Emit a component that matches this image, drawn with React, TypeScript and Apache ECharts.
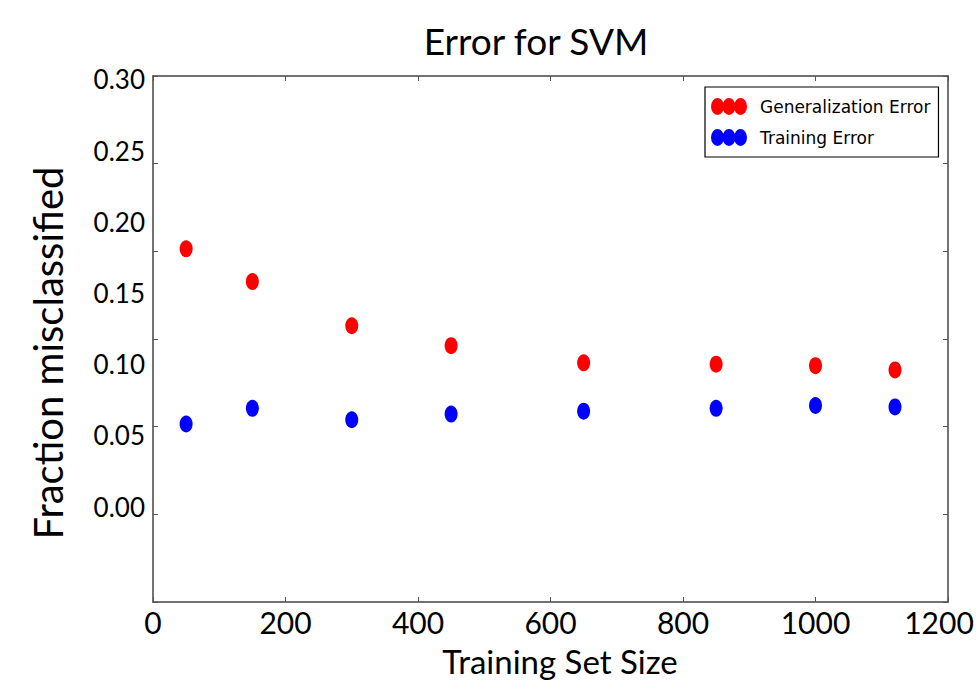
import React, { useEffect, useRef } from "react";
import * as echarts from "echarts";

const trainingSizes = [50, 150, 300, 450, 650, 850, 1000, 1120];
const generalizationError = [0.181, 0.158, 0.127, 0.113, 0.101, 0.1, 0.099, 0.096];
const trainingError = [0.058, 0.069, 0.061, 0.065, 0.067, 0.069, 0.071, 0.07];
const yTickLabels = [0, 0.05, 0.1, 0.15, 0.2, 0.25, 0.3];
const seriesNames = ["Generalization Error", "Training Error"];
const titleText = "Error for SVM";
const xAxisTitle = "Training Set Size";
const yAxisTitle = "Fraction misclassified";

const FONT = "Lato";
const ICON =
  "path://M0,8.5 A6.5,8.5 0 1,0 13,8.5 A6.5,8.5 0 1,0 0,8.5 Z M11.5,8.5 A6.5,8.5 0 1,0 24.5,8.5 A6.5,8.5 0 1,0 11.5,8.5 Z M23,8.5 A6.5,8.5 0 1,0 36,8.5 A6.5,8.5 0 1,0 23,8.5 Z";

export default function App() {
  const ref = useRef<HTMLDivElement>(null);
  useEffect(() => {
    if (!ref.current) return;
    const chart = echarts.init(ref.current, null, { renderer: "svg" });
    const axisLine = { show: true, onZero: false, lineStyle: { color: "#444", width: 1.5 } };
    const tick = { show: true, inside: true, length: 5, lineStyle: { color: "#555", width: 1 } };
    chart.setOption({
      animation: false,
      backgroundColor: "#fff",
      grid: { left: 153, right: 32, top: 76, bottom: 79, containLabel: false, outerBoundsMode: "none" },
      xAxis: [
        {
          type: "value",
          position: "bottom",
          min: 0,
          max: 1200,
          interval: 200,
          axisLine,
          axisTick: tick,
          splitLine: { show: false },
          axisLabel: {
            fontFamily: FONT,
            fontSize: 30,
            lineHeight: 28,
            color: "#000",
            margin: 6,
            formatter: (v: number) => (v === 1200 ? "{last|" + v + "}" : String(v)),
            rich: {
              last: { fontFamily: FONT, fontSize: 30, lineHeight: 28, color: "#000", padding: [0, 18, 0, 0] },
            },
          },
        },
        {
          type: "value",
          position: "top",
          min: 0,
          max: 1200,
          interval: 200,
          axisLine,
          axisTick: tick,
          splitLine: { show: false },
          axisLabel: { show: false },
        },
      ],
      yAxis: [
        {
          type: "value",
          position: "left",
          min: 0,
          max: 6,
          interval: 1,
          axisLine,
          axisTick: tick,
          splitLine: { show: false },
          axisLabel: { show: false },
        },
        {
          type: "value",
          position: "right",
          min: 0,
          max: 6,
          interval: 1,
          axisLine,
          axisTick: tick,
          splitLine: { show: false },
          axisLabel: { show: false },
        },
        {
          type: "value",
          position: "left",
          min: -0.067,
          max: 0.3024,
          axisLine: { show: false, onZero: false },
          axisTick: { show: false },
          splitLine: { show: false },
          axisLabel: {
            customValues: yTickLabels,
            formatter: (v: number) => v.toFixed(2),
            fontFamily: FONT,
            fontSize: 26,
            color: "#000",
            margin: 8,
          },
        },
      ],
      legend: {
        orient: "vertical",
        left: 705,
        top: 87,
        padding: [11, 8, 11, 6],
        itemWidth: 36,
        itemHeight: 17,
        itemGap: 14,
        icon: ICON,
        borderColor: "#000",
        borderWidth: 1.2,
        borderRadius: 0,
        backgroundColor: "#fff",
        data: seriesNames,
        textStyle: { fontFamily: "DejaVu Sans", fontSize: 17, color: "#000", padding: [0, 0, 0, 8] },
      },
      graphic: [
        {
          type: "text",
          x: 536,
          y: 40,
          style: {
            text: titleText,
            fontFamily: FONT,
            fontSize: 37,
            fill: "#000",
            align: "center",
            verticalAlign: "middle",
          },
        },
        {
          type: "text",
          x: 560,
          y: 661,
          style: {
            text: xAxisTitle,
            fontFamily: FONT,
            fontSize: 33,
            lineHeight: 33,
            fill: "#000",
            align: "center",
            verticalAlign: "middle",
          },
        },
        {
          type: "text",
          x: 48,
          y: 353,
          rotation: Math.PI / 2,
          style: {
            text: yAxisTitle,
            fontFamily: FONT,
            fontSize: 40,
            fill: "#000",
            align: "center",
            verticalAlign: "middle",
          },
        },
      ],
      series: [
        {
          name: seriesNames[0],
          type: "scatter",
          xAxisIndex: 0,
          yAxisIndex: 2,
          symbol: "circle",
          symbolSize: [13, 17],
          itemStyle: { color: "#ff0000", opacity: 1 },
          data: trainingSizes.map((x, i) => [x, generalizationError[i]]),
        },
        {
          name: seriesNames[1],
          type: "scatter",
          xAxisIndex: 0,
          yAxisIndex: 2,
          symbol: "circle",
          symbolSize: [13, 17],
          itemStyle: { color: "#0000ff", opacity: 1 },
          data: trainingSizes.map((x, i) => [x, trainingError[i]]),
        },
      ],
    });
    return () => chart.dispose();
  }, []);
  return (
    <div
      ref={ref}
      style={{ position: "fixed", left: 0, top: 0, width: 980, height: 681, background: "#fff" }}
    />
  );
}
